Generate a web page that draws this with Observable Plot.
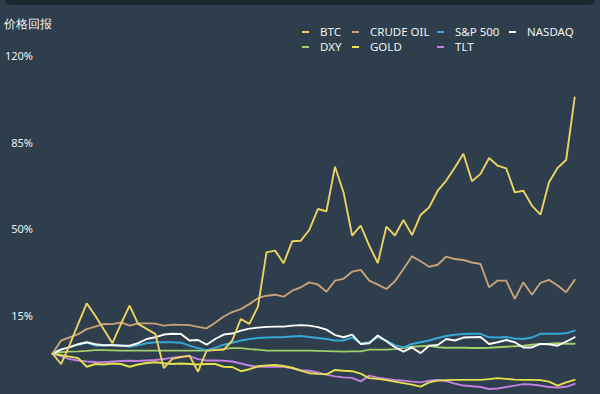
<!DOCTYPE html>
<html>
<head>
<meta charset="utf-8">
<script src="https://cdn.jsdelivr.net/npm/d3@7"></script>
<script src="https://cdn.jsdelivr.net/npm/@observablehq/plot@0.6"></script>
<style>
html,body{margin:0;padding:0;background:#2e3e4c;width:600px;height:394px;overflow:hidden;font-family:"Noto Sans",sans-serif;}
#wrap{position:relative;width:600px;height:394px;overflow:hidden;}
#topbar{position:absolute;left:5px;right:5px;top:-8px;height:13px;border-radius:6px;background:#1d2831;}
#title{position:absolute;left:4px;top:16px;font-size:11.5px;color:#f4f6f7;line-height:16px;}
#legend{position:absolute;left:302px;top:24px;display:grid;grid-template-columns:50px 85px 72px 90px;}
.item{display:flex;align-items:center;height:15px;font-size:11.5px;color:#eef1f3;white-space:nowrap;}
.sw{width:7px;height:2px;margin-right:11px;flex:none;}
#chart{position:absolute;left:0;top:50px;}
</style>
</head>
<body>
<div id="wrap">
  <div id="topbar"></div>
  <div id="title">价格回报</div>
  <div id="legend"></div>
  <div id="chart"></div>
</div>
<script>
// Series names (legend order) and colours
const names = ["BTC", "CRUDE OIL", "S&P 500", "NASDAQ", "DXY", "GOLD", "TLT"];
const colors = ["#edd262", "#c9a27a", "#35a9d8", "#ffffff", "#9fd06a", "#e6e24c", "#c67fe2"];
const yTicks = [15, 50, 85, 120];

// Cumulative price return (%) per period
const btc = [0, -4.2, 3.5, 12, 20.3, 15.3, 9.7, 4.2, 12, 19.4, 12, 10, 8, -5.8, -2.1, -1.4, -0.8, -7.3, 1.2, 1.4, 1.5, 5.3, 14, 12, 19, 40.9, 41.6, 36.5, 45.4, 45.6, 50, 58.4, 57.5, 75.5, 65.1, 47.7, 51.7, 43.6, 36.6, 51.3, 47.7, 54, 47.9, 56, 59.1, 65.8, 69.9, 75.2, 80.7, 69.6, 72.6, 79, 75.9, 74.8, 65.1, 65.8, 59.8, 56.1, 69.2, 75, 78.2, 103.5];
const crudeOil = [0, 5.3, 6.6, 7.9, 9.9, 10.9, 12, 11.9, 12.6, 11.3, 12.2, 12.2, 12.1, 11.3, 11.7, 11.6, 11.5, 10.8, 10.2, 12.5, 15, 16.8, 18, 20, 22.4, 23.4, 23.8, 23, 25.4, 26.8, 28.8, 27.9, 25, 29.5, 30.2, 33.1, 33.8, 29.5, 27.9, 26.1, 29.2, 34.2, 39.3, 37.3, 35.1, 35.9, 39.2, 38.2, 37.8, 36.8, 36.2, 26.8, 29.5, 29.5, 22.1, 28.8, 23.8, 28.6, 29.8, 27.5, 24.8, 29.8];
const sp500 = [0, 1.8, 2.5, 3.6, 4.4, 3.2, 3.3, 3.6, 3.4, 2.7, 3.4, 4.2, 4.6, 4.6, 4.6, 4.4, 3.2, 2.2, 1.4, 2.3, 3.6, 4.4, 5.3, 5.9, 6.3, 6.5, 6.6, 6.7, 6.9, 7.1, 6.7, 6.3, 5.9, 5.3, 5.3, 6.5, 4, 4.6, 6.6, 5.3, 3.4, 2.5, 3.9, 4.6, 5.3, 6.3, 7.1, 7.6, 7.9, 8, 8, 6.6, 6.5, 6.7, 6.1, 5.9, 6.5, 8, 8, 8, 8.2, 9.3];
const nasdaq = [0, 1.6, 2.6, 3.8, 4.6, 3.8, 3.4, 3.4, 3.2, 3.2, 4.2, 5.9, 6.6, 7.7, 8, 7.9, 5.3, 5.5, 3.6, 5.9, 7.7, 8.1, 9.3, 10.1, 10.5, 10.8, 10.9, 10.9, 11.3, 11.5, 11.3, 10.7, 9.7, 7.5, 6.6, 7.7, 3.9, 4.2, 7.3, 5, 2.6, 0.8, 2.5, 0.2, 3.2, 3.5, 5.9, 5.3, 6.5, 6.6, 6.7, 3.9, 4.6, 5.5, 4.6, 2.5, 2.5, 3.9, 3.8, 3.2, 4.8, 6.6];
const dxy = [0, 0.6, 0.8, 0.9, 1.1, 1.4, 1.4, 1.3, 1.2, 1.2, 1.2, 1.2, 1.2, 1.2, 1.2, 1.2, 1.2, 1.2, 1.2, 1.5, 1.9, 2.2, 2.2, 1.8, 1.6, 1.2, 1.2, 1.2, 1.2, 1.2, 1.2, 1.1, 1.0, 0.9, 0.8, 0.9, 0.9, 1.6, 1.6, 1.6, 1.8, 2.2, 2.8, 3.0, 3.2, 2.6, 2.4, 2.4, 2.4, 2.3, 2.3, 2.4, 2.6, 2.8, 3.0, 3.2, 3.6, 3.9, 4.0, 4.2, 4.0, 4.0];
const gold = [0, -0.6, -1.2, -1.8, -5.3, -4.2, -4.4, -4, -4.2, -5.3, -4.4, -3.8, -3.5, -3.9, -4.2, -4, -4.2, -4.4, -4.2, -4.2, -5.3, -5.4, -7.1, -6.3, -5.1, -4.8, -4.6, -5, -5.7, -6.9, -7.9, -8.2, -8.4, -6.6, -6.9, -7.1, -8.1, -9.9, -10.2, -10.7, -11.3, -11.9, -12.5, -13.3, -11.6, -10.9, -10.7, -10.6, -10.6, -10.6, -10.6, -10.3, -9.9, -10.2, -10.5, -10.6, -10.6, -10.7, -11.3, -12.9, -11.6, -10.6];
const tlt = [0, -1, -2.2, -2.8, -3.2, -3.4, -3.5, -3.2, -3, -2.9, -3, -2.8, -2.6, -2.2, -1.6, -1.2, -1, -2.2, -2.8, -2.8, -2.9, -3.2, -4, -4.8, -5.3, -5.3, -5.3, -5.3, -5.9, -6.7, -6.9, -7.6, -8.5, -9.2, -9.6, -9.8, -11.2, -8.9, -9.7, -10.2, -10.6, -10.9, -11.3, -11.6, -10.9, -10.6, -11.1, -12.1, -12.9, -13.2, -13.5, -14.3, -14.1, -13.5, -12.9, -12.3, -12.5, -12.9, -13.5, -13.7, -13.4, -12.2];

const seriesValues = {"BTC": btc, "CRUDE OIL": crudeOil, "S&P 500": sp500, "NASDAQ": nasdaq, "DXY": dxy, "GOLD": gold, "TLT": tlt};

// Draw order: BTC last so it sits on top
const drawOrder = ["TLT", "GOLD", "DXY", "S&P 500", "NASDAQ", "CRUDE OIL", "BTC"];
const rows = [];
for (const s of drawOrder) seriesValues[s].forEach((v, i) => rows.push({s, i, v}));

// Legend
const leg = document.getElementById("legend");
names.forEach((n, k) => {
  const it = document.createElement("div");
  it.className = "item";
  const sw = document.createElement("span");
  sw.className = "sw";
  sw.style.background = colors[k];
  it.appendChild(sw);
  it.appendChild(document.createTextNode(n));
  leg.appendChild(it);
});

const chart = Plot.plot({
  width: 600,
  height: 344,
  marginTop: 6,
  marginBottom: 0,
  marginLeft: 52,
  marginRight: 25.8,
  style: {background: "transparent", color: "#eef1f3", fontFamily: "Noto Sans", fontSize: "11px", overflow: "visible"},
  x: {domain: [0, btc.length - 1], axis: null},
  y: {domain: [-16.51, 120]},
  color: {domain: names, range: colors},
  marks: [
    Plot.axisY({ticks: yTicks, tickSize: 0, tickPadding: 19.5, tickFormat: d => d + "%", fontSize: 11, fill: "#eef1f3", label: null}),
    Plot.line(rows, {x: "i", y: "v", z: "s", stroke: "s", strokeWidth: 1.9, strokeLinejoin: "miter"})
  ]
});
document.getElementById("chart").appendChild(chart);
</script>
</body>
</html>
